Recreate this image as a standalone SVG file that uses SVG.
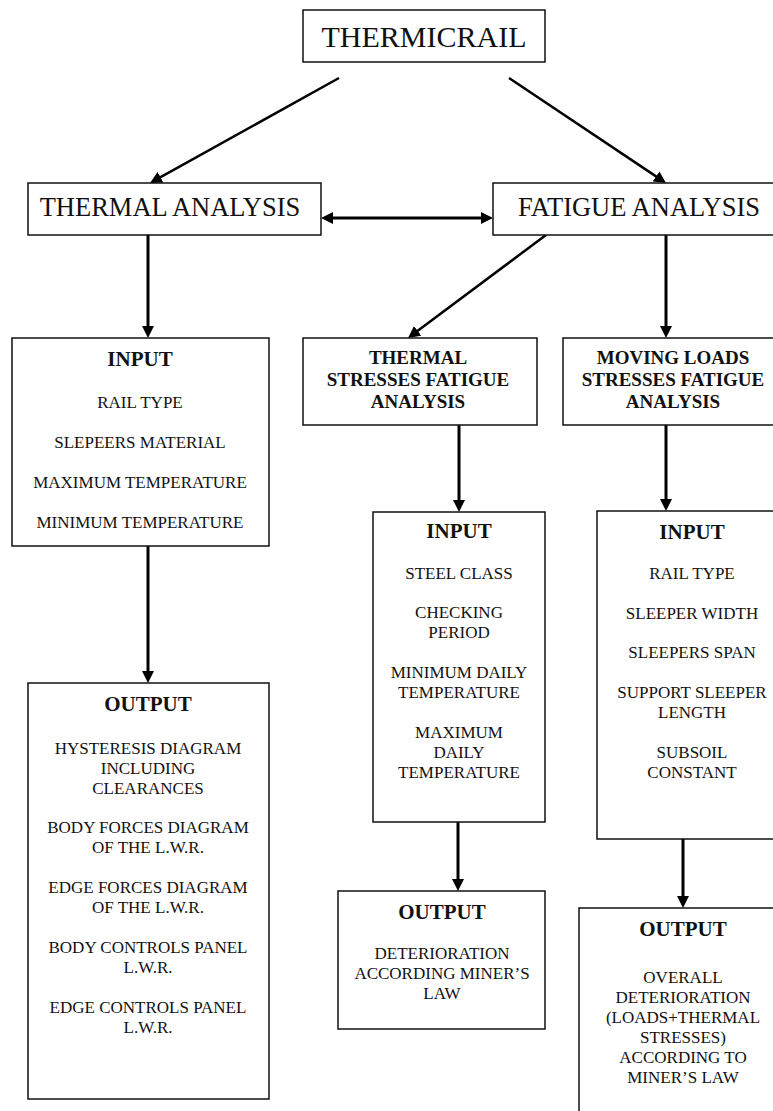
<svg xmlns="http://www.w3.org/2000/svg" width="773" height="1111" viewBox="0 0 773 1111">
<style>
.box{fill:#fff;stroke:#111;stroke-width:1.5}
.t{font-family:"Liberation Serif","Times New Roman",serif;fill:#111;text-anchor:middle}
.r{font-size:17px}
.h{font-size:21px;font-weight:bold}
.s{font-size:19px;font-weight:bold}
.big{font-size:26.5px}
.title{font-size:30px}
.c{fill:none;stroke:#000;stroke-width:3}
.cd{fill:none;stroke:#000;stroke-width:2.5}
</style>
<defs>
<marker id="ah" viewBox="0 0 12 12" refX="4" refY="6" markerWidth="12" markerHeight="12" markerUnits="userSpaceOnUse" orient="auto-start-reverse">
<path d="M0,0 L12,6 L0,12 z" fill="#000"/>
</marker>
</defs>
<rect width="773" height="1111" fill="#fff"/>

<g id="connectors">
<line class="cd" x1="339" y1="78" x2="157" y2="179.1" marker-end="url(#ah)"/>
<line class="cd" x1="509" y1="78" x2="659.4" y2="178.6" marker-end="url(#ah)"/>
<line class="c" x1="329" y1="218" x2="485" y2="218" marker-start="url(#ah)" marker-end="url(#ah)"/>
<line class="c" x1="148" y1="235" x2="148" y2="330" marker-end="url(#ah)"/>
<line class="cd" x1="546" y1="235" x2="414.4" y2="333.2" marker-end="url(#ah)"/>
<line class="c" x1="666" y1="235" x2="666" y2="330" marker-end="url(#ah)"/>
<line class="c" x1="148" y1="546" x2="148" y2="675" marker-end="url(#ah)"/>
<line class="c" x1="459" y1="425" x2="459" y2="504" marker-end="url(#ah)"/>
<line class="c" x1="666" y1="425" x2="666" y2="503" marker-end="url(#ah)"/>
<line class="c" x1="458" y1="822" x2="458" y2="883" marker-end="url(#ah)"/>
<line class="c" x1="683" y1="839" x2="683" y2="900" marker-end="url(#ah)"/>
</g>

<g id="thermicrail">
<rect class="box" x="303" y="10" width="242" height="52"/>
<text class="t title" x="424" y="47">THERMICRAIL</text>
</g>

<g id="thermal-analysis">
<rect class="box" x="28" y="183" width="293" height="52"/>
<text class="t big" x="170" y="216">THERMAL ANALYSIS</text>
</g>

<g id="fatigue-analysis">
<rect class="box" x="493" y="183" width="292" height="52"/>
<text class="t big" x="639" y="216">FATIGUE ANALYSIS</text>
</g>

<g id="thermal-input">
<rect class="box" x="12" y="338" width="257" height="208"/>
<text class="t h" x="140" y="366">INPUT</text>
<text class="t r" x="140" y="408">RAIL TYPE</text>
<text class="t r" x="140" y="448">SLEPEERS MATERIAL</text>
<text class="t r" x="140" y="488">MAXIMUM TEMPERATURE</text>
<text class="t r" x="140" y="528">MINIMUM TEMPERATURE</text>
</g>

<g id="thermal-output">
<rect class="box" x="28" y="683" width="241" height="416"/>
<text class="t h" x="148" y="711">OUTPUT</text>
<text class="t r" x="148" y="754">HYSTERESIS DIAGRAM</text>
<text class="t r" x="148" y="774">INCLUDING</text>
<text class="t r" x="148" y="794">CLEARANCES</text>
<text class="t r" x="148" y="833">BODY FORCES DIAGRAM</text>
<text class="t r" x="148" y="853">OF THE L.W.R.</text>
<text class="t r" x="148" y="893">EDGE FORCES DIAGRAM</text>
<text class="t r" x="148" y="913">OF THE L.W.R.</text>
<text class="t r" x="148" y="953">BODY CONTROLS PANEL</text>
<text class="t r" x="148" y="973">L.W.R.</text>
<text class="t r" x="148" y="1013">EDGE CONTROLS PANEL</text>
<text class="t r" x="148" y="1033">L.W.R.</text>
</g>

<g id="thermal-stresses">
<rect class="box" x="303" y="338" width="234" height="87"/>
<text class="t s" x="418" y="364">THERMAL</text>
<text class="t s" x="418" y="386">STRESSES FATIGUE</text>
<text class="t s" x="418" y="408">ANALYSIS</text>
</g>

<g id="moving-loads">
<rect class="box" x="563" y="338" width="220" height="87"/>
<text class="t s" x="673" y="364">MOVING LOADS</text>
<text class="t s" x="673" y="386">STRESSES FATIGUE</text>
<text class="t s" x="673" y="408">ANALYSIS</text>
</g>

<g id="stresses-input">
<rect class="box" x="373" y="512" width="172" height="310"/>
<text class="t h" x="459" y="538">INPUT</text>
<text class="t r" x="459" y="579">STEEL CLASS</text>
<text class="t r" x="459" y="618">CHECKING</text>
<text class="t r" x="459" y="638">PERIOD</text>
<text class="t r" x="459" y="678">MINIMUM DAILY</text>
<text class="t r" x="459" y="698">TEMPERATURE</text>
<text class="t r" x="459" y="738">MAXIMUM</text>
<text class="t r" x="459" y="758">DAILY</text>
<text class="t r" x="459" y="778">TEMPERATURE</text>
</g>

<g id="loads-input">
<rect class="box" x="597" y="511" width="190" height="328"/>
<text class="t h" x="692" y="539">INPUT</text>
<text class="t r" x="692" y="579">RAIL TYPE</text>
<text class="t r" x="692" y="619">SLEEPER WIDTH</text>
<text class="t r" x="692" y="658">SLEEPERS SPAN</text>
<text class="t r" x="692" y="698">SUPPORT SLEEPER</text>
<text class="t r" x="692" y="718">LENGTH</text>
<text class="t r" x="692" y="758">SUBSOIL</text>
<text class="t r" x="692" y="778">CONSTANT</text>
</g>

<g id="stresses-output">
<rect class="box" x="338" y="891" width="207" height="138"/>
<text class="t h" x="442" y="919">OUTPUT</text>
<text class="t r" x="442" y="959">DETERIORATION</text>
<text class="t r" x="442" y="979">ACCORDING MINER’S</text>
<text class="t r" x="442" y="999">LAW</text>
</g>

<g id="overall-output">
<rect class="box" x="579" y="908" width="208" height="220"/>
<text class="t h" x="683" y="936">OUTPUT</text>
<text class="t r" x="683" y="983">OVERALL</text>
<text class="t r" x="683" y="1003">DETERIORATION</text>
<text class="t r" x="683" y="1023">(LOADS+THERMAL</text>
<text class="t r" x="683" y="1043">STRESSES)</text>
<text class="t r" x="683" y="1063">ACCORDING TO</text>
<text class="t r" x="683" y="1083">MINER’S LAW</text>
</g>
</svg>
